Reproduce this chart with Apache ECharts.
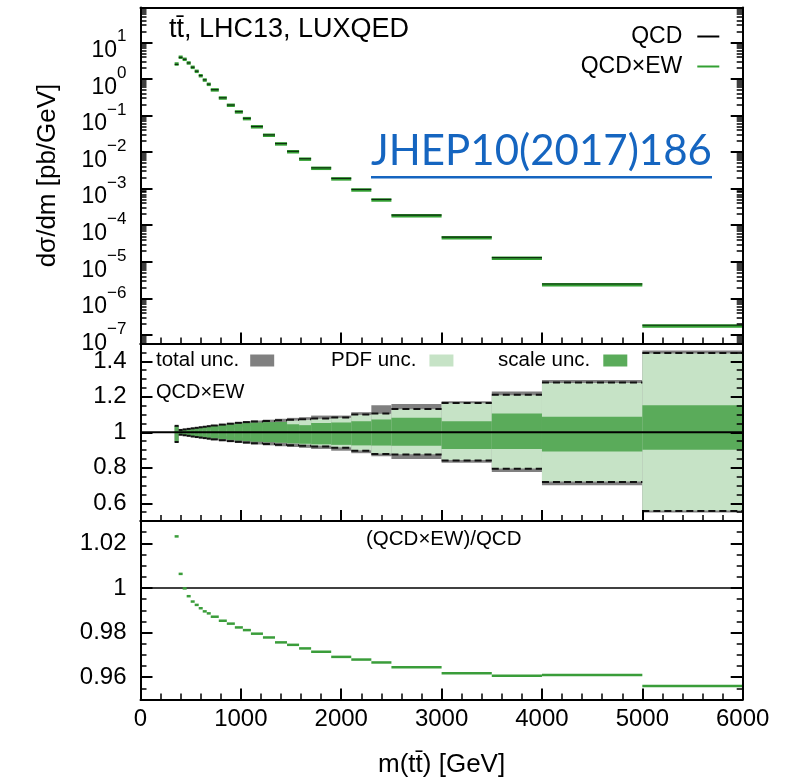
<!DOCTYPE html>
<html><head><meta charset="utf-8">
<script src="https://cdn.jsdelivr.net/npm/echarts@6/dist/echarts.min.js"></script>
<style>html,body{margin:0;padding:0;background:#fff}#c{width:800px;height:781px}</style>
</head><body><div id="c"></div>
<script>
// ---------------- data ----------------
const binEdges = [340,380,420,460,500,540,580,620,660,700,780,860,940,1020,1100,1220,1340,1460,1580,1700,1900,2100,2300,2500,3000,3500,4000,5000,6000];
const xsecQCDxEW = [2.55,3.9,3.43,2.72,2.07,1.61,1.22,0.93,0.71,0.50,0.30,0.19,0.125,0.082,0.049,0.0288,0.0167,0.0102,0.0064,0.0036,0.00185,9.2e-4,4.9e-4,1.82e-4,4.57e-5,1.25e-5,2.38e-6,1.77e-7];
const xsecQCD    = [2.49,3.876,3.43,2.73,2.08,1.62,1.23,0.94,0.718,0.507,0.304,0.193,0.127,0.0836,0.050,0.02945,0.01712,0.01047,0.00658,0.003706,0.001909,9.50e-4,5.07e-4,1.887e-4,4.75e-5,1.301e-5,2.477e-6,1.851e-7];
const ratioEWoverQCD = [1.0231,1.0063,0.9998,0.9963,0.9939,0.9924,0.9909,0.9895,0.9886,0.9871,0.9853,0.9840,0.9823,0.9811,0.9795,0.9778,0.9756,0.9745,0.9729,0.9714,0.9691,0.9679,0.9666,0.9644,0.9618,0.9606,0.9610,0.9561];
const totUp  = [1.038,1.015,1.019,1.022,1.025,1.028,1.031,1.034,1.037,1.041,1.047,1.053,1.058,1.062,1.066,1.071,1.076,1.081,1.085,1.094,1.094,1.113,1.152,1.159,1.174,1.230,1.294,1.461];
const totDn  = [0.942,0.984,0.980,0.977,0.973,0.970,0.966,0.963,0.960,0.955,0.950,0.945,0.940,0.936,0.931,0.926,0.921,0.917,0.912,0.906,0.896,0.882,0.865,0.850,0.828,0.776,0.702,0.548];
const pdfUp  = [1.010,1.005,1.006,1.007,1.008,1.009,1.010,1.012,1.014,1.016,1.020,1.025,1.030,1.035,1.042,1.050,1.058,1.066,1.070,1.076,1.081,1.098,1.104,1.129,1.163,1.209,1.278,1.444];
const pdfDn  = [0.990,0.995,0.994,0.993,0.992,0.991,0.990,0.988,0.986,0.984,0.980,0.975,0.970,0.965,0.958,0.950,0.943,0.937,0.930,0.924,0.915,0.898,0.880,0.876,0.843,0.796,0.722,0.559];
const scUp   = [1.035,1.012,1.015,1.018,1.021,1.024,1.027,1.030,1.032,1.036,1.041,1.046,1.050,1.053,1.055,1.057,1.058,1.045,1.040,1.052,1.055,1.062,1.072,1.081,1.062,1.106,1.087,1.152];
const scDn   = [0.948,0.988,0.985,0.982,0.979,0.976,0.973,0.970,0.968,0.965,0.961,0.957,0.953,0.950,0.947,0.944,0.941,0.938,0.935,0.932,0.929,0.926,0.925,0.924,0.906,0.906,0.891,0.902];
const dashUp = [1.036,1.013,1.016,1.019,1.022,1.025,1.028,1.031,1.034,1.038,1.043,1.048,1.053,1.057,1.060,1.064,1.067,1.070,1.073,1.078,1.083,1.100,1.106,1.131,1.165,1.211,1.280,1.446];
const dashDn = [0.945,0.986,0.983,0.980,0.976,0.973,0.970,0.967,0.964,0.960,0.955,0.950,0.946,0.942,0.938,0.934,0.930,0.927,0.924,0.920,0.912,0.896,0.878,0.874,0.841,0.794,0.720,0.557];
const logMajorTicks = [-7,-6,-5,-4,-3,-2,-1,0,1];
const uncMajorTicks = [0.6,0.8,1,1.2,1.4];
const ratMajorTicks = [0.96,0.98,1,1.02];

// ---------------- layout ----------------
const FONT = '"Liberation Sans", Arial, Helvetica, sans-serif';
const L = 140.5, R = 57.3;
const LOGMIN = -7.232, LOGMAX = 1.951;
const binLo = binEdges.slice(0,-1), binHi = binEdges.slice(1);
const logMinorTicks = [];
for (let k=-8;k<=1;k++) for (let j=2;j<=9;j++){const v=k+Math.log10(j); if(v>LOGMIN && v<LOGMAX) logMinorTicks.push(v);}

const chart = echarts.init(document.getElementById('c'));
const tickFont = {fontFamily: FONT, fontSize: 24, color: '#000'};
const black2 = {color:'#000', width:2};

function xAxes(i){
  return [
    {gridIndex:i, type:'value', min:0, max:6000, interval:1000, position:'bottom', z:10,
     axisLine:{show:true,onZero:false,lineStyle:black2},
     axisTick:{show:true,inside:true,length:11,lineStyle:black2},
     minorTick:{show:true,splitNumber:5,length:6,lineStyle:{color:'#000',width:1.5}},
     splitLine:{show:false}, minorSplitLine:{show:false},
     axisLabel:Object.assign({show:i===2, margin:8, formatter: v => String(v)}, tickFont),
     name: i===2 ? 'm(tt\u0304) [GeV]' : '', nameLocation:'middle', nameGap:52,
     nameTextStyle:{fontFamily:FONT,fontSize:26,color:'#000'}},
    {gridIndex:i, type:'value', min:0, max:6000, position:'top', z:10,
     axisLine:{show:true,onZero:false,lineStyle:black2}, axisTick:{show:false},
     axisLabel:{show:false}, splitLine:{show:false}}
  ];
}
function yAxes(i, min, max, major, minorCfg, labelCfg, nameCfg){
  const base = {gridIndex:i, type:'value', min, max, z:10, splitLine:{show:false}};
  const mk = (pos, isMajor) => {
    const a = Object.assign({}, base, {position:pos});
    a.axisLine = {show:isMajor, onZero:false, lineStyle:black2};
    if (isMajor) {
      a.axisTick = {show:true, inside:true, length:12, lineStyle:black2, customValues: major};
      a.axisLabel = pos==='left' ? Object.assign({show:true, customValues: major}, labelCfg) : {show:false};
      if (pos==='left' && nameCfg) Object.assign(a, nameCfg);
    } else {
      a.axisTick = Object.assign({show:true, inside:true, length:6, lineStyle:{color:'#000',width:1.5}}, minorCfg.tick);
      if (minorCfg.interval) a.interval = minorCfg.interval;
      a.axisLabel = {show:false};
    }
    return a;
  };
  return [mk('left',true), mk('left',false), mk('right',true), mk('right',false)];
}

const logLabel = {margin:14, padding:[6,0,0,0], formatter: v => {
  const e = Math.round(v); return '{b|10}{s|' + (e<0 ? '\u2212'+(-e) : String(e)) + '}';
}, rich:{
  b:{fontFamily:FONT,fontSize:23,color:'#000',lineHeight:34,verticalAlign:'bottom'},
  s:{fontFamily:FONT,fontSize:17,color:'#000',lineHeight:34,verticalAlign:'top'}
}};
const linLabel = Object.assign({margin:14, formatter: v => String(Math.round(v*1000)/1000)}, tickFont);

function segSeries(name, gi, vals, color, width, z, opacity){
  return {type:'custom', name, xAxisIndex:2*gi, yAxisIndex:4*gi, z, silent:true,
    itemStyle:{color}, encode:{x:[0,1], y:2},
    data: binLo.map((l,k)=>[l, binHi[k], vals[k]]),
    renderItem:(p, api) => {
      const a = api.coord([api.value(0), api.value(2)]), b = api.coord([api.value(1), api.value(2)]);
      return {type:'line', shape:{x1:a[0],y1:a[1],x2:b[0],y2:b[1]}, style:{stroke:color, lineWidth:width, opacity: opacity == null ? 1 : opacity}};
    }};
}
function bandSeries(name, lo, hi, color, z){
  return {type:'custom', name, xAxisIndex:2, yAxisIndex:4, z, silent:true,
    itemStyle:{color}, encode:{x:[0,1], y:[2,3]},
    data: binLo.map((l,k)=>[l, binHi[k], lo[k], hi[k]]),
    renderItem:(p, api) => {
      const a = api.coord([api.value(0), api.value(3)]), b = api.coord([api.value(1), api.value(2)]);
      return {type:'rect', shape:{x:a[0], y:a[1], width:b[0]-a[0], height:b[1]-a[1]}, style:{fill:color}};
    }};
}
function dashSeries(lo, hi){
  return {type:'custom', name:'dashed', xAxisIndex:2, yAxisIndex:4, z:6, silent:true,
    encode:{x:[0,1], y:[2,3]},
    data: binLo.map((l,k)=>[l, binHi[k], lo[k], hi[k]]),
    renderItem:(p, api) => {
      const x1 = api.coord([api.value(0), 1])[0], x2 = api.coord([api.value(1), 1])[0];
      const yl = api.coord([0, api.value(2)])[1], yh = api.coord([0, api.value(3)])[1];
      const st = {stroke:'#111', lineWidth:2, lineDash:[7,4]};
      return {type:'group', children:[
        {type:'line', shape:{x1, y1:yh, x2, y2:yh}, style:st},
        {type:'line', shape:{x1, y1:yl, x2, y2:yl}, style:st}]};
    }};
}

const GRAY = '#808080', LIGHT = '#c6e3c6', MID = '#5aab5a', GREEN = '#33a033';

const option = {
  animation:false,
  backgroundColor:'#fff',
  grid:[
    {left:L, right:R, top:7.5, height:336},
    {left:L, right:R, top:343.5, height:177.5},
    {left:L, right:R, top:521, height:178.5}
  ],
  xAxis:[...xAxes(0), ...xAxes(1), ...xAxes(2)],
  yAxis:[
    ...yAxes(0, LOGMIN, LOGMAX, logMajorTicks, {tick:{customValues:logMinorTicks}}, logLabel,
      {name:'d\u03c3/dm [pb/GeV]', nameLocation:'middle', nameGap:80, nameRotate:90,
       nameTextStyle:{fontFamily:FONT,fontSize:26,color:'#000'}}),
    ...yAxes(1, 0.5, 1.5, uncMajorTicks, {interval:0.05}, linLabel),
    ...yAxes(2, 0.95, 1.03, ratMajorTicks, {interval:0.005}, linLabel)
  ],
  legend:[
    {data:[{name:'QCD'},{name:'QCD\u00d7EW'}], orient:'vertical', right:80.7, top:25, align:'right',
     icon:'rect', itemWidth:22, itemHeight:2, itemGap:7, padding:0, selectedMode:false,
     textStyle:{fontFamily:FONT,fontSize:23,color:'#000',padding:[0,10,0,0]}},
    {data:['total unc.'], left:156, top:350, align:'right', icon:'rect', itemWidth:24, itemHeight:12, padding:0,
     selectedMode:false, textStyle:{fontFamily:FONT,fontSize:20.5,color:'#000',padding:[0,6,0,0]}},
    {data:['PDF unc.'], left:331, top:350, align:'right', icon:'rect', itemWidth:24, itemHeight:12, padding:0,
     selectedMode:false, textStyle:{fontFamily:FONT,fontSize:20.5,color:'#000',padding:[0,8,0,0]}},
    {data:['scale unc.'], left:498, top:350, align:'right', icon:'rect', itemWidth:24, itemHeight:12, padding:0,
     selectedMode:false, textStyle:{fontFamily:FONT,fontSize:20.5,color:'#000',padding:[0,8,0,0]}}
  ],
  graphic:[
    {type:'text', left:169, top:16, z:20, style:{text:'tt\u0304, LHC13, LUXQED', fontFamily:FONT, fontSize:27, fill:'#000'}},
    {type:'text', left:371, top:130, z:20, style:{text:'JHEP10(2017)186', fontFamily:'Lato, "Open Sans", sans-serif', fontSize:42, fill:'#1565c0'}},
    {type:'rect', left:371, top:176, z:20, shape:{width:341, height:2.5}, style:{fill:'#1565c0'}},
    {type:'text', left:156, top:382, z:20, style:{text:'QCD\u00d7EW', fontFamily:FONT, fontSize:20, fill:'#000'}},
    {type:'text', left:366, top:529, z:20, style:{text:'(QCD\u00d7EW)/QCD', fontFamily:FONT, fontSize:20.5, fill:'#000'}}
  ],
  series:[
    segSeries('QCD\u00d7EW', 0, xsecQCDxEW.map(Math.log10), GREEN, 3.5, 3),
    segSeries('QCD', 0, xsecQCD.map(Math.log10), '#000', 1.2, 4, 0.7),
    bandSeries('total unc.', totDn, totUp, GRAY, 2),
    bandSeries('PDF unc.', pdfDn, pdfUp, LIGHT, 3),
    bandSeries('scale unc.', scDn, scUp, MID, 4),
    dashSeries(dashDn, dashUp),
    {type:'line', xAxisIndex:2, yAxisIndex:4, z:7, silent:true, symbol:'none', data:[[0,1],[6000,1]], lineStyle:{color:'#000',width:2}},
    {type:'line', xAxisIndex:4, yAxisIndex:8, z:3, silent:true, symbol:'none', data:[[0,1],[6000,1]], lineStyle:{color:'#000',width:1.5}},
    segSeries('ratio', 2, ratioEWoverQCD, '#3a9d3a', 2.5, 4)
  ]
};
chart.setOption(option);
</script></body></html>
